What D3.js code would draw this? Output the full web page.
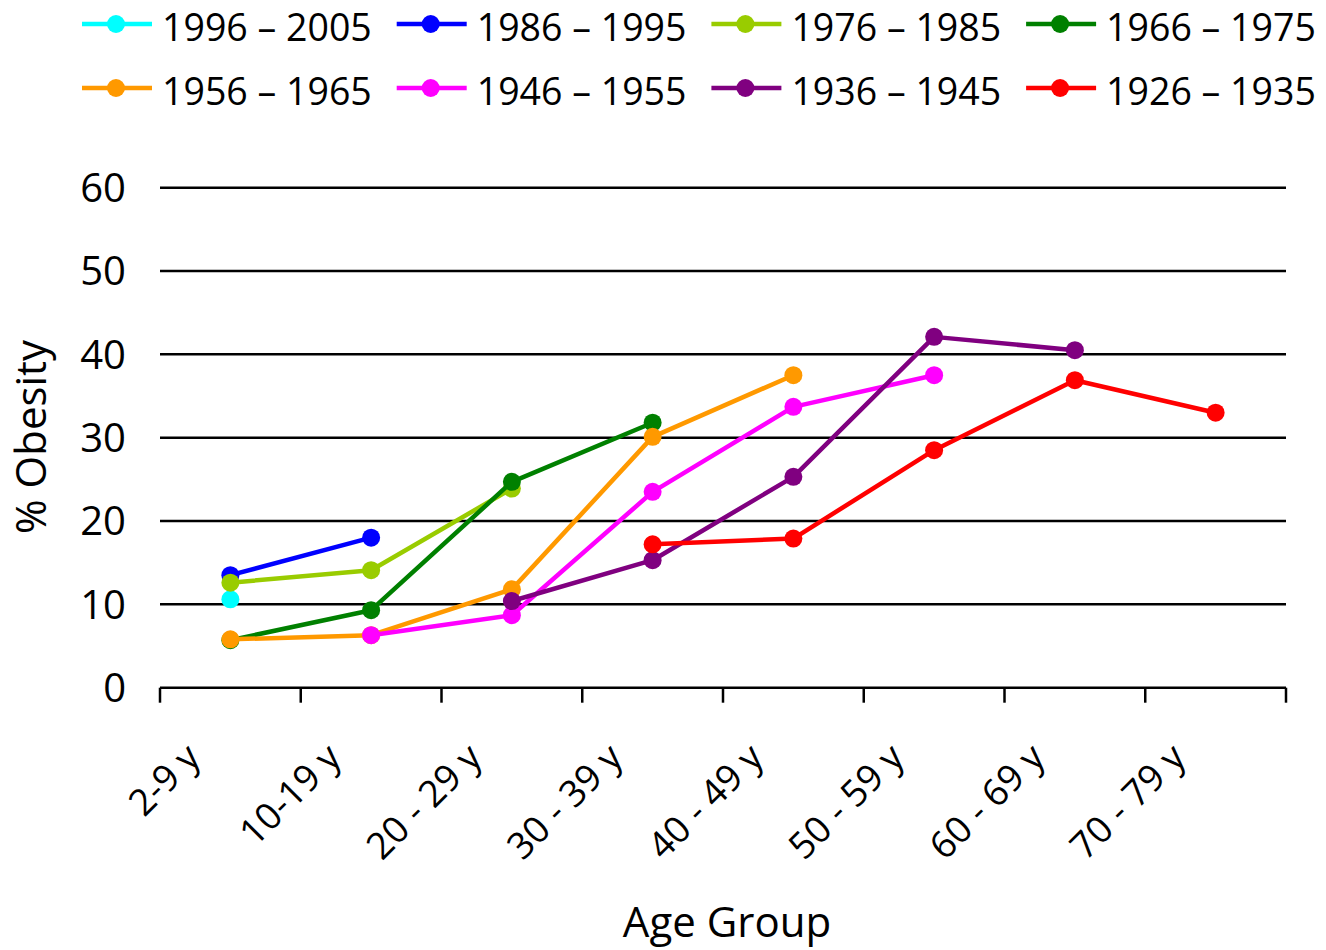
<!DOCTYPE html>
<html>
<head>
<meta charset="utf-8">
<script src="https://cdn.jsdelivr.net/npm/d3@7/dist/d3.min.js"></script>
<style>
  html, body { margin: 0; padding: 0; background: #fff; }
  svg { display: block; font-family: "Open Sans", "Noto Sans", sans-serif; }
</style>
</head>
<body>
<svg id="chart" width="1326" height="950"></svg>
<script>
// Age groups along the x axis
const ageGroups = ["2-9 y", "10-19 y", "20 - 29 y", "30 - 39 y", "40 - 49 y", "50 - 59 y", "60 - 69 y", "70 - 79 y"];

// Birth cohorts (legend order, also drawing order)
const cohorts = ["1996 – 2005", "1986 – 1995", "1976 – 1985", "1966 – 1975",
                 "1956 – 1965", "1946 – 1955", "1936 – 1945", "1926 – 1935"];
const cohortColors = ["#00FFFF", "#0000FF", "#99CC00", "#008000",
                      "#FF9900", "#FF00FF", "#800080", "#FF0000"];

// % obesity per cohort by age group (null = not observed)
const obesity1996 = [10.6, null, null, null, null, null, null, null];
const obesity1986 = [13.5, 18.0, null, null, null, null, null, null];
const obesity1976 = [12.6, 14.1, 23.9, null, null, null, null, null];
const obesity1966 = [5.7, 9.3, 24.7, 31.8, null, null, null, null];
const obesity1956 = [5.8, 6.3, 11.8, 30.1, 37.5, null, null, null];
const obesity1946 = [null, 6.3, 8.7, 23.5, 33.7, 37.5, null, null];
const obesity1936 = [null, null, 10.4, 15.3, 25.3, 42.1, 40.5, null];
const obesity1926 = [null, null, null, 17.2, 17.9, 28.5, 36.9, 33.0];

const yTicks = [0, 10, 20, 30, 40, 50, 60];

const seriesValues = [obesity1996, obesity1986, obesity1976, obesity1966,
                      obesity1956, obesity1946, obesity1936, obesity1926];
const series = cohorts.map((name, i) => ({
  name,
  color: cohortColors[i],
  points: seriesValues[i]
    .map((v, j) => ({ age: ageGroups[j], value: v }))
    .filter(d => d.value !== null)
}));

const svg = d3.select("#chart");

const plot = { left: 160, right: 1286, top: 187.7, bottom: 687.7 };

const x = d3.scaleBand().domain(ageGroups).range([plot.left, plot.right]);
const y = d3.scaleLinear().domain([0, 60]).range([plot.bottom, plot.top]);

// Horizontal gridlines
svg.append("g")
  .selectAll("line")
  .data(yTicks.filter(t => t > 0))
  .join("line")
  .attr("x1", plot.left).attr("x2", plot.right)
  .attr("y1", d => y(d)).attr("y2", d => y(d))
  .attr("stroke", "#000").attr("stroke-width", 2.5);

// Y tick labels
svg.append("g")
  .selectAll("text")
  .data(yTicks)
  .join("text")
  .attr("x", 126)
  .attr("y", d => y(d))
  .attr("dy", "0.36em")
  .attr("text-anchor", "end")
  .attr("font-size", 40)
  .attr("fill", "#000")
  .text(d => d);

// X axis: baseline with ticks at category boundaries
const xAxis = svg.append("g");
xAxis.append("line")
  .attr("x1", plot.left).attr("x2", plot.right)
  .attr("y1", plot.bottom).attr("y2", plot.bottom)
  .attr("stroke", "#000").attr("stroke-width", 2.5);
const boundaries = ageGroups.map(a => x(a)).concat([x.range()[1]]);
xAxis.selectAll("line.tick")
  .data(boundaries)
  .join("line")
  .attr("class", "tick")
  .attr("x1", d => d).attr("x2", d => d)
  .attr("y1", plot.bottom).attr("y2", plot.bottom + 15)
  .attr("stroke", "#000").attr("stroke-width", 2.5);

// Rotated category labels
xAxis.selectAll("text")
  .data(ageGroups)
  .join("text")
  .attr("transform", d => `translate(${x(d) + x.bandwidth() / 2 - 28},${plot.bottom + 72}) rotate(-45)`)
  .attr("text-anchor", "end")
  .attr("font-size", 37)
  .attr("fill", "#000")
  .text(d => d);

// Axis titles
svg.append("text")
  .attr("x", 727).attr("y", 937)
  .attr("text-anchor", "middle")
  .attr("font-size", 42)
  .text("Age Group");

svg.append("text")
  .attr("transform", "translate(46,437) rotate(-90)")
  .attr("text-anchor", "middle")
  .attr("font-size", 42)
  .text("% Obesity");

// Cohort lines and markers
const line = d3.line()
  .x(d => x(d.age) + x.bandwidth() / 2)
  .y(d => y(d.value));

const groups = svg.append("g")
  .selectAll("g")
  .data(series)
  .join("g");

groups.append("path")
  .attr("d", d => line(d.points))
  .attr("fill", "none")
  .attr("stroke", d => d.color)
  .attr("stroke-width", 4.5)
  .attr("stroke-linejoin", "round");

groups.selectAll("circle")
  .data(d => d.points.map(p => ({ ...p, color: d.color })))
  .join("circle")
  .attr("cx", d => x(d.age) + x.bandwidth() / 2)
  .attr("cy", d => y(d.value))
  .attr("r", 9)
  .attr("fill", d => d.color);

// Legend: two rows of four
const legendStep = 314.7;
const legend = svg.append("g")
  .selectAll("g")
  .data(series)
  .join("g")
  .attr("transform", (d, i) => `translate(${82 + (i % 4) * legendStep},${i < 4 ? 24 : 88})`);

legend.append("line")
  .attr("x1", 0).attr("x2", 70)
  .attr("stroke", d => d.color)
  .attr("stroke-width", 4.5);
legend.append("circle")
  .attr("cx", 34).attr("r", 9)
  .attr("fill", d => d.color);
legend.append("text")
  .attr("x", 80)
  .attr("y", 17)
  .attr("font-size", 37.5)
  .attr("fill", "#000")
  .text(d => d.name);
</script>
</body>
</html>
